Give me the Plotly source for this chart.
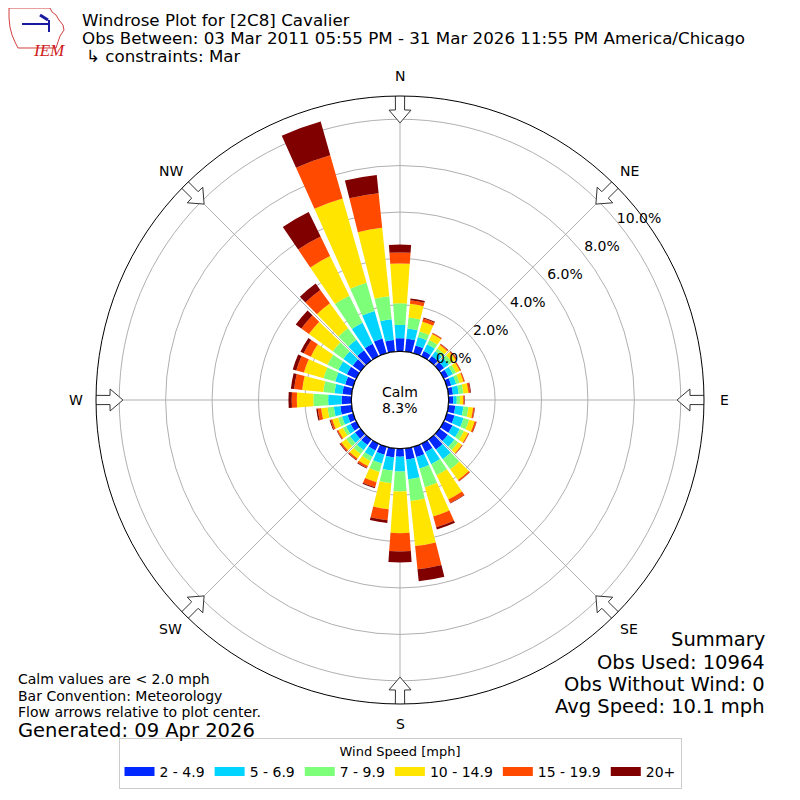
import plotly.graph_objects as go
import numpy as np

# wind directions (deg, meteorological) and speed bins
dirs = list(range(0, 360, 10))
bins = ["2 - 4.9", "5 - 6.9", "7 - 9.9", "10 - 14.9", "15 - 19.9", "20+"]
colors = ["#0028ff", "#00d4ff", "#7dff7a", "#ffe500", "#ff4a00", "#800000"]

# percent of obs per direction for each speed bin
s2_5 = [.57, .56, .35, .25, .25, .25, .22, .20, .20, .20, .30, .35, .42, .45, .54, .40, .46, .48,
        .35, .39, .36, .32, .30, .30, .27, .25, .49, .42, .40, .36, .45, .42, .55, .60, .66, .50]
s5_7 = [.57, .44, .38, .33, .25, .25, .22, .22, .25, .15, .35, .40, .35, .35, .51, .58, .51, .86,
        .64, .58, .39, .30, .28, .27, .22, .25, .28, .58, .34, .45, .41, .50, .56, 1.00, 1.23, .90]
s7_10 = [.93, .48, .24, .20, .15, .17, .15, .15, .20, .14, .22, .25, .20, .20, .54, .53, .84, .94,
         .86, .54, .38, .20, .20, .20, .15, .18, .27, .64, .49, .52, .52, .56, .61, 1.30, 1.27, 1.00]
s10_15 = [1.72, .59, .44, .28, .18, .20, .18, .18, .22, .14, .20, .25, .20, .20, .57, 1.16, 1.31, 1.95,
          1.79, 1.13, .46, .25, .24, .25, .22, .26, .28, .71, .91, .88, .80, 1.27, 1.33, 1.90, 3.77, 2.96]
s15_20 = [.47, .15, .14, .05, .05, .05, .05, .05, .08, .05, .06, .07, .04, .03, .07, .17, .48, 1.00,
          .79, .47, .22, .09, .07, .07, .06, .08, .15, .22, .35, .34, .34, .40, .71, .93, 1.94, 1.50]
s20 = [.34, .08, .05, .01, .02, .02, .01, .01, .03, .02, .02, .02, .01, .01, .01, .02, .10, .52,
       .47, .12, .05, .03, .03, .03, .02, .04, .06, .14, .14, .16, .15, .30, .34, 1.18, 1.51, .79]
speed_data = [s2_5, s5_7, s7_10, s10_15, s15_20, s20]

calm_pct = 8.3
rticks = [0, 2, 4, 6, 8, 10]
compass = ["N", "NE", "E", "SE", "S", "SW", "W", "NW"]
compass_deg = [0, 45, 90, 135, 180, 225, 270, 315]

FONT = "DejaVu Sans"
RMAX = 11
W = 792  # page body has an 8px margin, so draw 792px and offset by 8


def px(x, y):
    return (x - 8) / float(W), 1 - (y - 8) / float(W)


fig = go.Figure()
for name, col, vals in zip(bins, colors, speed_data):
    fig.add_trace(go.Barpolar(r=vals, theta=dirs, width=8.2, name=name, showlegend=False,
                              marker=dict(color=col, line=dict(width=0))))
# legend patches (wide flat rectangles like the original)
for name, col in zip(bins, colors):
    fig.add_trace(go.Scatterpolar(r=[None], theta=[None], mode="lines", name=name,
                                  line=dict(color=col, width=9)))

# black ring around the calm hole
ring = np.arange(0, 361, 2)
fig.add_trace(go.Scatterpolar(r=[0] * len(ring), theta=ring, mode="lines",
                              line=dict(color="black", width=1.2), showlegend=False,
                              hoverinfo="skip"))

# flow arrows on the outer ring, pointing to the center
arr_r = [11.1, 10.4, 10.4, 9.84, 10.4, 10.4, 11.1, 11.1]
arr_dt = [-0.87, -0.9, -2.17, 0, 2.17, 0.9, 0.87, -0.87]
for d in compass_deg:
    fig.add_trace(go.Scatterpolar(r=arr_r, theta=[d + t for t in arr_dt], mode="lines",
                                  fill="toself", fillcolor="white",
                                  line=dict(color="#333333", width=1), cliponaxis=False,
                                  showlegend=False, hoverinfo="skip"))

# radial tick labels
fig.add_trace(go.Scatterpolar(r=[v + 0.8 for v in rticks], theta=[53] * len(rticks),
                              mode="text", text=["%.1f%%" % v for v in rticks],
                              textfont=dict(size=14, color="black", family=FONT),
                              showlegend=False, hoverinfo="skip", cliponaxis=False))

d0 = px(96, 96)
d1 = px(704, 704)
fig.update_layout(
    width=W, height=W,
    margin=dict(l=0, r=0, t=0, b=0),
    paper_bgcolor="white",
    font=dict(family=FONT, size=13, color="black"),
    polar=dict(
        domain=dict(x=[d0[0], d1[0]], y=[d1[1], d0[1]]),
        hole=0.16,
        bgcolor="white",
        barmode="stack",
        radialaxis=dict(range=[0, RMAX], tickvals=rticks, showticklabels=False, ticks="",
                        showline=False, gridcolor="#b0b0b0", gridwidth=1, layer="above traces"),
        angularaxis=dict(direction="clockwise", rotation=90, tickvals=compass_deg,
                         showticklabels=False, ticks="", gridcolor="#b0b0b0", gridwidth=1,
                         linecolor="black", linewidth=1, layer="above traces"),
    ),
    legend=dict(orientation="h", x=px(400, 0)[0], xanchor="center", y=px(0, 789)[1],
                yanchor="bottom",
                title=dict(text="Wind Speed [mph]", side="top center", font=dict(size=13)),
                bordercolor="#cccccc", borderwidth=1, bgcolor="white",
                font=dict(size=14), itemwidth=30, itemclick=False),
    showlegend=True,
)


def note(x, y, text, size, anchor="left", h=None):
    X, Y = px(x, y)
    fig.add_annotation(x=X, y=Y, xref="paper", yref="paper", text=text, showarrow=False,
                       xanchor=anchor, yanchor="middle", height=h,
                       font=dict(size=size, family=FONT))


# compass labels outside the ring
for lab, d in zip(compass, compass_deg):
    a = np.radians(d)
    note(400 + 324 * np.sin(a), 400 - 324 * np.cos(a), lab, 14, "center")

note(80, 20, "Windrose Plot for [2C8] Cavalier", 16.7, h=17)
note(80, 38, "Obs Between: 03 Mar 2011 05:55 PM - 31 Mar 2026 11:55 PM America/Chicago", 16.7, h=17)
note(84, 55, "↳ constraints: Mar", 16.7, h=17)

note(16, 679, "Calm values are < 2.0 mph", 14)
note(16, 696, "Bar Convention: Meteorology", 14)
note(16, 712, "Flow arrows relative to plot center.", 14)
note(16, 730, "Generated: 09 Apr 2026", 19.5)

note(767, 639, "Summary", 19.5, "right")
note(767, 662, "Obs Used: 10964", 19.5, "right")
note(767, 684, "Obs Without Wind: 0", 19.5, "right")
note(767, 706, "Avg Speed: 10.1 mph", 19.5, "right")

note(400, 392, "Calm", 14, "center")
note(400, 408, "%.1f%%" % calm_pct, 14, "center")

# IEM logo (rough)
iowa = [(9, 8), (50, 8), (52, 12), (56, 15), (59, 20), (63, 25), (64, 30), (60, 36), (58, 42),
        (56, 48), (18, 48), (15, 42), (12, 35), (10, 27), (9, 18)]
path = "M " + " L ".join("%.4f,%.4f" % px(a, b) for a, b in iowa) + " Z"
fig.add_shape(type="path", path=path, xref="paper", yref="paper",
              line=dict(color="#d04040", width=1))
x0, y0 = px(22, 24)
x1, y1 = px(48, 24)
fig.add_shape(type="line", x0=x0, y0=y0, x1=x1, y1=y1, xref="paper", yref="paper",
              line=dict(color="#1a1aa0", width=2))
x0, y0 = px(40, 15)
x1, y1 = px(48, 20)
fig.add_shape(type="line", x0=x0, y0=y0, x1=x1, y1=y1, xref="paper", yref="paper",
              line=dict(color="#1a1aa0", width=3))
x0, y0 = px(49, 20)
x1, y1 = px(49, 32)
fig.add_shape(type="line", x0=x0, y0=y0, x1=x1, y1=y1, xref="paper", yref="paper",
              line=dict(color="#1a1aa0", width=2))
X, Y = px(31, 39)
fig.add_annotation(x=X, y=Y, xref="paper", yref="paper", text="<i>IEM</i>", showarrow=False,
                   font=dict(size=17, color="#d02020", family="Liberation Serif"))

fig.write_html("out.html")
